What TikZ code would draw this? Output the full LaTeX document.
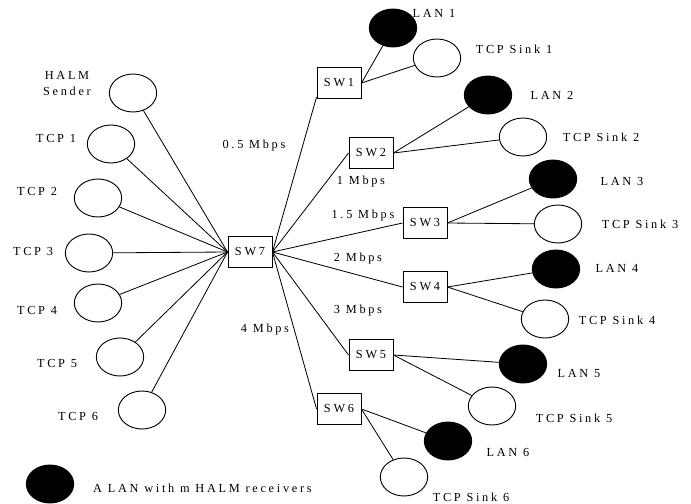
\documentclass[tikz,border=0pt]{standalone}
\usepackage{fontspec}
\setmainfont{Liberation Serif}[LetterSpace=22]
\usetikzlibrary{shapes.geometric}

\begin{document}
\begin{tikzpicture}[x=0.03cm,y=-0.03cm,
  host/.style={ellipse,draw=black,line width=0.8pt,fill=white,minimum width=1.42cm,minimum height=1.14cm,inner sep=0pt},
  lan/.style={host,fill=black},
  switch/.style={draw=black,line width=0.8pt,fill=white,minimum width=1.32cm,minimum height=0.95cm,inner sep=0pt,font=\fontsize{10.5}{12}\selectfont},
  link/.style={line width=0.7pt},
  label/.style={font=\fontsize{10.5}{12}\selectfont,inner sep=0pt,align=center}
]
\useasboundingbox (0,0) rectangle (691,504);

% Core switch and sources on the left
\node[switch] (sw7) at (250,252) {SW7};
\node[host] (sender) at (133,93) {};
\node[label] (senderlabel) at (67,83.5) {HALM\\[1pt]Sender};
\foreach \i/\x/\y/\lx/\ly in {1/111/144/56/138, 2/98/198/37/191, 3/89/253/33/251,
                              4/98/303/37/310, 5/120/357/57/363, 6/142/410/78/416} {
  \node[host] (tcp\i) at (\x,\y) {};
  \node[label] (tcplabel\i) at (\lx,\ly) {TCP \i};
}
\draw[link] (sender) -- (sw7.west);
\foreach \i in {1,...,6}
  \draw[link] (tcp\i) -- (sw7.west);

% Edge switches with their LAN and TCP sink
\foreach \i/\x/\y in {1/339/83, 2/371/153, 3/425/223, 4/425/287, 5/371/355, 6/339/409}
  \node[switch] (sw\i) at (\x,\y) {SW\i};
\foreach \i/\x/\y/\lx/\ly in {1/393/28/434/13, 2/488/95/552/95, 3/553/179/622/181,
                              4/556/269/617/268, 5/523/364/579/373, 6/448/441/508/452} {
  \node[lan] (lan\i) at (\x,\y) {};
  \node[label] (lanlabel\i) at (\lx,\ly) {LAN \i};
}
\foreach \i/\x/\y/\lx/\ly in {1/437/58/514/49, 2/523/137/601/137, 3/558/224/640/224,
                              4/545/319/617/320, 5/492/406/574/418, 6/404/477/471/497} {
  \node[host] (sink\i) at (\x,\y) {};
  \node[label] (sinklabel\i) at (\lx,\ly) {TCP Sink \i};
}
\draw[link] (sw7.east) -- (sw1.-148);
\foreach \i in {2,...,6}
  \draw[link] (sw7.east) -- (sw\i.west);
\foreach \i in {1,...,6} {
  \draw[link] (sw\i.east) -- (lan\i);
  \draw[link] (sw\i.east) -- (sink\i);
}

% Link rates
\node[label] (rate1) at (254,146) {0.5 Mbps};
\node[label] (rate2) at (361,182) {1 Mbps};
\node[label] (rate3) at (363,216) {1.5 Mbps};
\node[label] (rate4) at (358,259) {2 Mbps};
\node[label] (rate5) at (358,311) {3 Mbps};
\node[label] (rate6) at (265,330) {4 Mbps};

% Legend
\node[lan] (legendlan) at (50,484) {};
\node[label,anchor=west] (legendtext) at (93,488) {A LAN with m HALM receivers};
\end{tikzpicture}
\end{document}
